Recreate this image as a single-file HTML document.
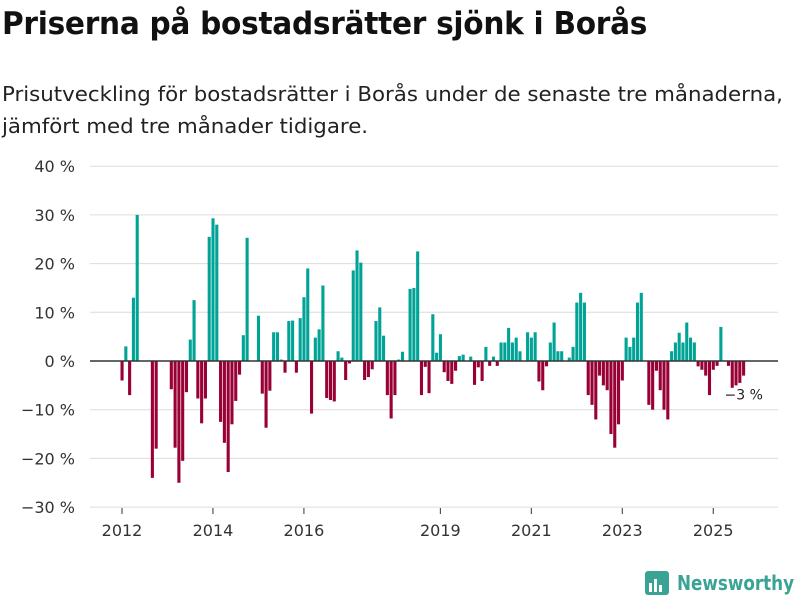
<!DOCTYPE html>
<html><head><meta charset="utf-8"><style>
body{margin:0;width:800px;height:600px;background:#fff;font-family:"Liberation Sans","DejaVu Sans",sans-serif;overflow:hidden;position:relative}
#title{position:absolute;left:2px;top:6px;font-size:31px;font-weight:bold;color:#111;letter-spacing:-0.3px;font-family:"DejaVu Sans","Liberation Sans",sans-serif;transform:scaleX(0.955);transform-origin:left;white-space:nowrap}
#sub{position:absolute;left:2px;top:78px;font-size:20.5px;line-height:32px;color:#222;font-family:"DejaVu Sans","Liberation Sans",sans-serif;transform:scaleX(1.04);transform-origin:left;width:800px;white-space:nowrap}
svg{position:absolute;left:0;top:0}
</style></head><body>
<div id="title">Priserna på bostadsrätter sjönk i Borås</div>
<div id="sub">Prisutveckling för bostadsrätter i Borås under de senaste tre månaderna,<br>jämfört med tre månader tidigare.</div>
<svg id="chart" width="800" height="600"></svg>
<script>
const yTicks=[40,30,20,10,0,-10,-20,-30];
const yTickLabels=["40 %","30 %","20 %","10 %","0 %","−10 %","−20 %","−30 %"];
const xTickYears=[2012,2014,2016,2019,2021,2023,2025];
const values=[
-4,3,-7,13,30,0,0,0,-24,-18,0,0,0,
-5.8,-17.8,-25,-20.5,-6.4,4.4,12.5,-7.7,-12.8,-7.7,25.5,29.3,28,-12.5,-16.8,-22.8,-13,-8.2,-2.8,
5.3,25.3,0,0,9.3,-6.7,-13.7,-6.1,5.9,5.9,0.3,-2.4,8.2,8.3,-2.4,8.8,13.1,19,-10.8,4.8,6.5,15.5,-7.6,-8,-8.3,2,0.7,-3.9,-0.5,18.6,22.7,20.2,-3.9,
-3.3,-1.7,8.2,11,5.2,-7,-11.8,-7,0.3,1.9,0,14.8,15,22.5,-7,-1.2,-6.6,9.6,1.7,5.5,-2.3,-4.1,-4.7,-2,1,1.3,0,0.9,-4.9,-1.3,-4.1,2.9,
-1,0.9,-1,3.8,3.8,6.8,3.8,4.8,2,0,5.9,4.8,5.9,-4.2,-6,-1.1,3.8,7.9,2,2,0,0.7,2.9,12,14,12,-7,-9,-12,-3,-5,-6,-15,
-17.8,-13,-4,4.8,2.9,4.8,12,14,0,-9,-10,-2,-6,-10,-12,2,3.8,5.8,3.8,7.9,4.8,3.8,-1.1,-1.8,-3,-7,-1.8,-1,7,0,-1,-5.5,-5,-4.5,-3];
const startYear=2012;
const lastLabel="−3 %";
const NS="http://www.w3.org/2000/svg";
const svg=document.getElementById('chart');
const x0=90,x1=778;
function yS(v){return 361-v*4.87;}
function xS(m){return 122+m*3.79;}
function mk(t,a,p){const e=document.createElementNS(NS,t);for(const k in a)e.setAttribute(k,a[k]);(p||svg).appendChild(e);return e;}
yTicks.forEach((t,i)=>{
 const g=mk('line',{x1:x0,x2:x1,y1:yS(t),y2:yS(t),stroke:'#dcdcdc','stroke-width':1});
 
 
 const l=mk('text',{x:75,y:yS(t)+6,'text-anchor':'end','font-size':16,fill:'#333','font-family':'DejaVu Sans, Liberation Sans, sans-serif'});
 l.textContent=yTickLabels[i];
 
 
});
values.forEach((v,m)=>{
 if(v===0)return;
 const y=Math.min(yS(v),yS(0)),h=Math.abs(yS(v)-yS(0));
 const r=mk('rect',{x:xS(m)-1.5,y:y,width:3.1,height:h,fill:v>0?'#00a395':'#990036'});
 
 
});
const z=mk('line',{x1:x0,x2:x1,y1:yS(0),y2:yS(0),stroke:'#333','stroke-width':1.6});


xTickYears.forEach(yr=>{
 const x=xS((yr-startYear)*12);
 const t=mk('line',{x1:x,x2:x,y1:508,y2:514,stroke:'#333','stroke-width':1});
 
 
 const l=mk('text',{x:x,y:536,'text-anchor':'middle','font-size':16,fill:'#333','font-family':'DejaVu Sans, Liberation Sans, sans-serif'});
 l.textContent=yr;
 
 
});
const lm=values.length-1;
const ll=mk('text',{x:xS(lm)-19,y:yS(values[lm])+24,'font-size':14,fill:'#222','font-family':'DejaVu Sans, Liberation Sans, sans-serif'});
ll.textContent=lastLabel;


const lg=mk('g',{});


mk('rect',{x:645,y:571,width:24,height:24,rx:3,fill:'#3aa394'},lg);
mk('rect',{x:649,y:583,width:3,height:9,fill:'#fff'},lg);
mk('rect',{x:654,y:579,width:3,height:13,fill:'#fff'},lg);
mk('rect',{x:659,y:585,width:3,height:7,fill:'#fff'},lg);
const lt=mk('text',{x:677,y:590,'font-size':20,'font-weight':'bold',fill:'#3aa394','font-family':'DejaVu Sans, Liberation Sans, sans-serif',textLength:117,lengthAdjust:'spacingAndGlyphs'},lg);
lt.textContent='Newsworthy';
</script>
</body></html>
